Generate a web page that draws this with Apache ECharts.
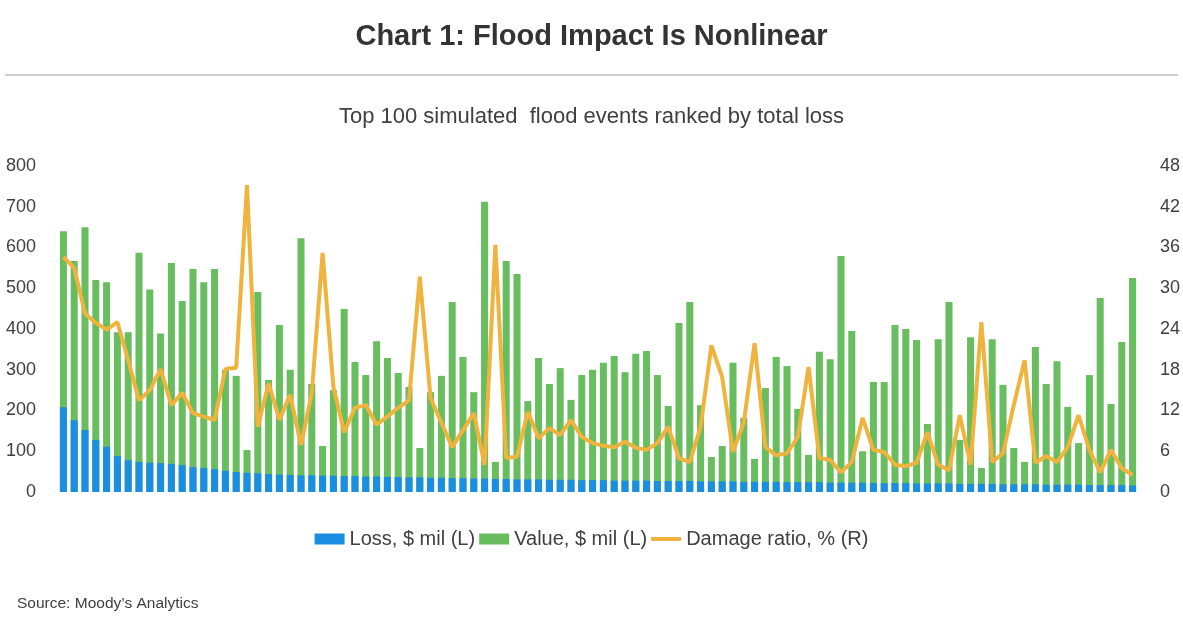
<!DOCTYPE html>
<html>
<head>
<meta charset="utf-8">
<script src="https://cdn.jsdelivr.net/npm/echarts@6/dist/echarts.min.js"></script>
<style>
html,body{margin:0;padding:0;background:#fff;}
#chart{width:1183px;height:618px;}
</style>
</head>
<body>
<div id="chart"></div>
<script>
// event rank 1..100
var events = [];
for (var i = 1; i <= 100; i++) events.push(String(i));

var lossVals = [208,176,152,128,111,88,78,74,72,71,69,66,61,59,56,52,49,47,46,44,43,42,41,41,40,40,
	39,39,38,38,37,37,36,36,35,35,34,34,33,33,32,32,31,31,31,30,30,30,29,29,29,
	28,28,28,28,27,27,27,27,26,26,26,26,25,25,25,25,24,24,24,24,23,23,23,23,22,
	22,22,22,21,21,21,21,20,20,20,20,19,19,19,19,18,18,18,18,17,17,17,17,16];

var valueVals = [640,567,650,520,515,392,392,587,497,389,562,469,547,515,547,300,285,103,491,275,410,300,623,265,113,250,
	449,319,287,370,329,292,258,108,245,285,466,331,245,712,74,567,535,223,329,265,304,226,287,300,317,
	334,294,339,346,287,211,415,466,213,86,113,317,182,81,255,331,309,204,91,344,326,579,395,100,270,
	270,410,400,373,167,375,466,128,380,59,375,263,108,74,356,265,321,209,120,287,476,216,368,525];

var ratioVals = [34.6,33,26.3,24.9,23.9,25,19.4,13.5,15,18.1,12.8,14.6,11.6,11.1,10.6,18.1,18.3,45.2,9.6,16,10.6,14.3,6.9,14.6,35.2,15.5,
	8.8,12.4,12.8,9.9,11.1,12.4,13.5,31.7,13.8,10.2,6.6,9.1,11.6,4,36.4,5,5.2,11.8,7.9,9.4,8.4,10.6,8.1,7.2,6.8,
	6.6,7.4,6.5,6.2,7.2,9.6,5,4.4,9.6,21.6,16.9,5.9,10.2,21.9,6.6,5.4,5.7,8.1,18.4,5,4.7,2.9,4.4,10.9,6.2,
	5.9,4,3.8,4.3,8.8,4,3.2,11.3,4,25,4.4,5.7,12.8,19.4,4.3,5.3,4.4,6.6,11.3,6.2,2.9,6.2,3.5,2.5];

var myChart = echarts.init(document.getElementById('chart'));
var font = 'Arial, "Liberation Sans", sans-serif';
var option = {
	textStyle: { fontFamily: font },
	title: [
		{ text: 'Chart 1: Flood Impact Is Nonlinear', left: 'center', top: 17,
		  textStyle: { fontSize: 29, fontWeight: 'bold', color: '#333', fontFamily: font } },
		{ text: 'Top 100 simulated  flood events ranked by total loss', left: 'center', top: 101,
		  textStyle: { fontSize: 22, fontWeight: 'normal', color: '#404040', fontFamily: font } },
		{ text: 'Source: Moody\u2019s Analytics', left: 12, top: 591,
		  textStyle: { fontSize: 15.5, fontWeight: 'normal', color: '#404040', fontFamily: font } }
	],
	graphic: [{ type: 'line', shape: { x1: 5, y1: 75, x2: 1178, y2: 75 },
		style: { stroke: '#bfbfbf', lineWidth: 1.5 } }],
	legend: {
		bottom: 64, itemGap: 4, itemWidth: 30, itemHeight: 11,
		textStyle: { fontSize: 20, color: '#404040', fontFamily: font },
		data: [
			{ name: 'Loss, $ mil (L)', icon: 'rect' },
			{ name: 'Value, $ mil (L)', icon: 'rect' },
			{ name: 'Damage ratio, % (R)', icon: 'path://M0,0L30,0L30,4L0,4Z', itemStyle: { color: '#f0b33e' } }
		]
	},
	grid: { left: 58, right: 43, top: 166, bottom: 126 },
	xAxis: {
		type: 'category', data: events,
		axisLine: { show: false }, axisTick: { show: false }, axisLabel: { show: false }
	},
	yAxis: [
		{ type: 'value', min: 0, max: 800, interval: 100, splitLine: { show: false },
		  axisLabel: { fontSize: 18, color: '#404040', margin: 22 } },
		{ type: 'value', min: 0, max: 48, interval: 6, splitLine: { show: false },
		  axisLabel: { fontSize: 18, color: '#404040', margin: 22 } }
	],
	series: [
		{ name: 'Value, $ mil (L)', type: 'bar', data: valueVals, barCategoryGap: '35%',
		  itemStyle: { color: '#68bd5e' }, z: 2 },
		{ name: 'Loss, $ mil (L)', type: 'bar', data: lossVals, barGap: '-100%',
		  itemStyle: { color: '#1a8ee0' }, z: 3 },
		{ name: 'Damage ratio, % (R)', type: 'line', yAxisIndex: 1, data: ratioVals,
		  symbol: 'none', lineStyle: { color: '#f0b33e', width: 4 }, itemStyle: { color: '#f0b33e' }, z: 4 }
	]
};
myChart.setOption(option);
</script>
</body>
</html>
